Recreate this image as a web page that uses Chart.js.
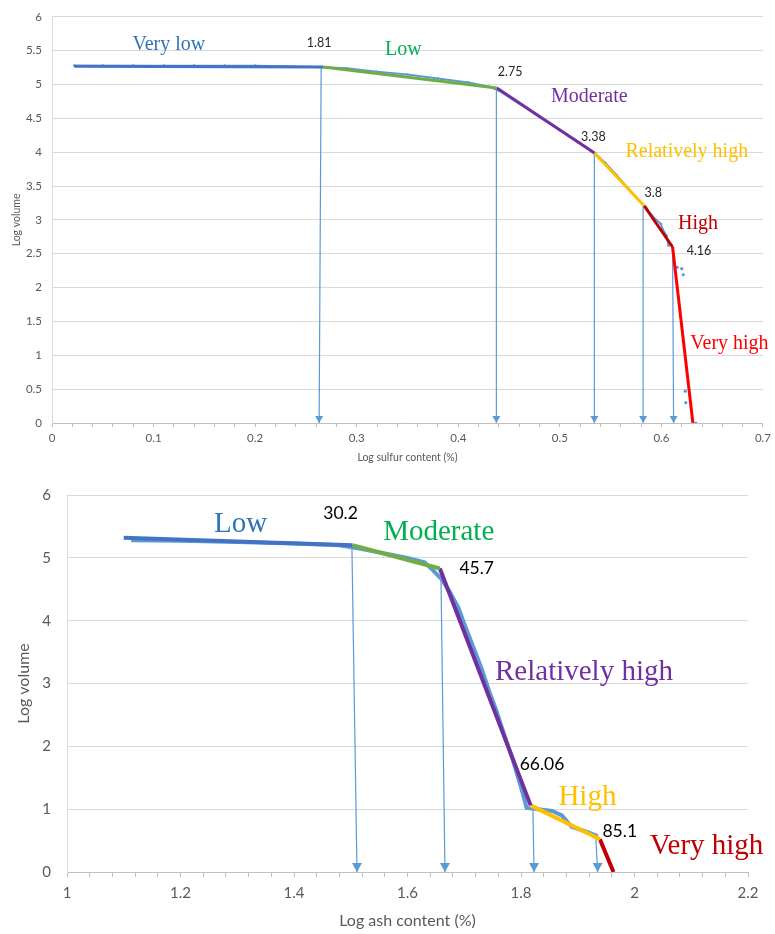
<!DOCTYPE html>
<html>
<head>
<meta charset="utf-8">
<title>Log volume vs sulfur and ash content</title>
<script src="https://cdn.jsdelivr.net/npm/chart.js@4.4.1/dist/chart.umd.min.js"></script>
<style>
  body { margin: 0; background: #fff; }
  .panel { position: absolute; left: 0; width: 775px; }
  #sulfurBox { top: 0; height: 470px; }
  #ashBox { top: 470px; height: 464px; }
</style>
</head>
<body>
<div class="panel" id="sulfurBox"><canvas id="sulfurChart"></canvas></div>
<div class="panel" id="ashBox"><canvas id="ashChart"></canvas></div>
<script>
'use strict'

// ---- SULFUR PANEL DATA ----
// measured curve (log sulfur %, log volume)
const sulfurRawX = [0.022, 0.05, 0.08, 0.11, 0.14, 0.17, 0.20, 0.23, 0.26, 0.29, 0.32, 0.35, 0.38, 0.41, 0.43, 0.44,
  0.46, 0.48, 0.50, 0.52, 0.535, 0.545, 0.556, 0.567, 0.578, 0.585, 0.591, 0.5995, 0.601, 0.605, 0.607];
const sulfurRawY = [5.28, 5.28, 5.28, 5.28, 5.28, 5.28, 5.28, 5.27, 5.26, 5.24, 5.19, 5.15, 5.09, 5.03, 4.97, 4.91,
  4.72, 4.52, 4.33, 4.14, 3.98, 3.84, 3.66, 3.47, 3.29, 3.18, 3.06, 2.94, 2.87, 2.77, 2.62];
// scattered points on the steep tail
const sulfurTailX = [0.6155, 0.620, 0.6215, 0.6235, 0.624, 0.634];
const sulfurTailY = [2.30, 2.28, 2.19, 0.47, 0.30, 0.0];
// fitted piecewise line, one segment per class
const sulfurFitX = [0.022, 0.267, 0.438, 0.534, 0.583, 0.611, 0.631];
const sulfurFitY = [5.27, 5.26, 4.95, 3.99, 3.21, 2.60, 0];
const sulfurClasses = ['Very low', 'Low', 'Moderate', 'Relatively high', 'High', 'Very high'];
// class boundaries (sulfur %), with the drop arrows
const sulfurCuts = ['1.81', '2.75', '3.38', '3.8', '4.16'];
const sulfurArrowTopX = [0.265, 0.4375, 0.534, 0.582, 0.611];
const sulfurArrowTopY = [5.26, 4.92, 3.97, 3.21, 2.60];
const sulfurArrowEndX = [0.263, 0.4375, 0.534, 0.582, 0.612];
const sulfurXLabels = [0, 0.1, 0.2, 0.3, 0.4, 0.5, 0.6, 0.7];
const sulfurYLabels = [0, 0.5, 1, 1.5, 2, 2.5, 3, 3.5, 4, 4.5, 5, 5.5, 6];

// ---- ASH PANEL DATA ----
const ashRawX = [1.113, 1.20, 1.30, 1.40, 1.48, 1.52, 1.56, 1.60, 1.63, 1.645, 1.66, 1.675, 1.69, 1.70, 1.715, 1.73,
  1.745, 1.757, 1.77, 1.785, 1.80, 1.81, 1.83, 1.855, 1.872, 1.889, 1.916, 1.935];
const ashRawY = [5.28, 5.27, 5.25, 5.23, 5.20, 5.14, 5.07, 5.00, 4.93, 4.80, 4.66, 4.45, 4.20, 3.95, 3.60, 3.25,
  2.85, 2.56, 2.20, 1.80, 1.35, 1.02, 1.00, 0.97, 0.90, 0.72, 0.64, 0.57];
const ashFitX = [1.100, 1.503, 1.657, 1.817, 1.939, 1.963];
const ashFitY = [5.32, 5.20, 4.83, 1.06, 0.52, 0];
const ashClasses = ['Low', 'Moderate', 'Relatively high', 'High', 'Very high'];
const ashCuts = ['30.2', '45.7', '66.06', '85.1'];
const ashArrowTopX = [1.502, 1.659, 1.821, 1.932];
const ashArrowTopY = [5.19, 4.67, 0.98, 0.52];
const ashArrowEndX = [1.511, 1.666, 1.823, 1.935];
const ashXLabels = [1, 1.2, 1.4, 1.6, 1.8, 2, 2.2];
const ashYLabels = [0, 1, 2, 3, 4, 5, 6];

// colours
const RAW_BLUE = '#5B9BD5';
const sulfurLineColors = ['#4472C4', '#70AD47', '#7030A0', '#FFC000', '#C00000', '#FF0000'];
const sulfurTextColors = ['#2E75B6', '#00B050', '#7030A0', '#FFC000', '#C00000', '#FF0000'];
const ashLineColors = ['#4472C4', '#70AD47', '#7030A0', '#FFC000', '#C00000'];
const ashTextColors = ['#2E75B6', '#00B050', '#7030A0', '#FFC000', '#C00000'];

Chart.defaults.font.family = 'Lato';
Chart.defaults.animation = false;

function toPoints(xs, ys) {
  return xs.map((x, i) => ({ x, y: ys[i] }));
}

// one dataset per fitted segment
function fitDatasets(xs, ys, colors, width) {
  return colors.map((c, i) => ({
    data: toPoints([xs[i], xs[i + 1]], [ys[i], ys[i + 1]]),
    showLine: true, borderColor: c, borderWidth: width, pointRadius: 0
  }));
}

function arrowDatasets(topX, topY, endX, width) {
  return topX.map((x, i) => ({
    data: [{ x, y: topY[i] }, { x: endX[i], y: 0 }],
    showLine: true, borderColor: RAW_BLUE, borderWidth: width, pointRadius: 0
  }));
}

// arrow heads + class names + boundary values, placed in data units
function makeMarkup(cfg) {
  return {
    id: 'markup',
    afterDatasetsDraw(chart) {
      const { ctx, scales: { x, y } } = chart;
      ctx.save();
      ctx.fillStyle = RAW_BLUE;
      cfg.arrowX.forEach(v => {
        const px = x.getPixelForValue(v), py = y.getPixelForValue(0);
        ctx.beginPath();
        ctx.moveTo(px, py);
        ctx.lineTo(px - cfg.headW / 2, py - cfg.headH);
        ctx.lineTo(px + cfg.headW / 2, py - cfg.headH);
        ctx.closePath();
        ctx.fill();
      });
      ctx.textAlign = 'center';
      ctx.textBaseline = 'middle';
      ctx.font = cfg.classFont;
      cfg.classes.forEach((t, i) => {
        ctx.fillStyle = cfg.classColors[i];
        ctx.fillText(t, x.getPixelForValue(cfg.classAt[i][0]), y.getPixelForValue(cfg.classAt[i][1]));
      });
      ctx.font = cfg.cutFont;
      ctx.fillStyle = cfg.cutColor;
      cfg.cuts.forEach((t, i) => {
        ctx.fillText(t, x.getPixelForValue(cfg.cutAt[i][0]), y.getPixelForValue(cfg.cutAt[i][1]));
      });
      ctx.restore();
    }
  };
}

// only listed values get a label, the other ticks stay as bare marks
function pickLabel(list) {
  return v => {
    const hit = list.find(t => Math.abs(t - v) < 1e-9);
    return hit === undefined ? '' : String(hit);
  };
}

// SULFUR CHART
new Chart(document.getElementById('sulfurChart'), {
  type: 'scatter',
  data: {
    datasets: [
      ...fitDatasets(sulfurFitX, sulfurFitY, sulfurLineColors, 3),
      { data: toPoints(sulfurRawX, sulfurRawY), showLine: true, borderColor: RAW_BLUE, borderWidth: 2,
        pointRadius: 1.3, pointBackgroundColor: RAW_BLUE, pointBorderWidth: 0 },
      { data: toPoints(sulfurTailX, sulfurTailY), pointRadius: 1.6, pointBackgroundColor: RAW_BLUE, pointBorderWidth: 0 },
      ...arrowDatasets(sulfurArrowTopX, sulfurArrowTopY, sulfurArrowEndX, 1.2)
    ]
  },
  options: {
    responsive: true,
    maintainAspectRatio: false,
    layout: { padding: { top: 12, right: 11, left: 0, bottom: 0 } },
    plugins: { legend: { display: false }, tooltip: { enabled: false } },
    scales: {
      x: {
        type: 'linear', min: 0, max: 0.7,
        afterFit: s => { s.height = 47; },
        ticks: { stepSize: 0.02, autoSkip: false, maxRotation: 0, padding: 4, color: '#595959',
          font: { size: 11.5 }, callback: pickLabel(sulfurXLabels) },
        grid: { drawOnChartArea: false, drawTicks: true, tickLength: 4, color: '#bfbfbf' },
        border: { color: '#bfbfbf' },
        title: { display: true, text: 'Log sulfur content (%)', color: '#595959', font: { size: 10.5 },
          padding: { top: 0, bottom: 6 } }
      },
      y: {
        min: 0, max: 6,
        afterFit: s => { s.width = 52; },
        ticks: { stepSize: 0.5, padding: 10, color: '#595959', font: { size: 11.5 },
          callback: pickLabel(sulfurYLabels) },
        grid: { color: '#d9d9d9', drawTicks: false },
        border: { color: '#d9d9d9' },
        title: { display: true, text: 'Log volume', color: '#595959', font: { size: 10.5 },
          padding: { top: 10, bottom: 0 } }
      }
    }
  },
  plugins: [makeMarkup({
    arrowX: sulfurArrowEndX, headW: 8, headH: 7,
    classes: sulfurClasses, classColors: sulfurTextColors,
    classAt: [[0.115, 5.59], [0.346, 5.52], [0.529, 4.82], [0.625, 4.01], [0.636, 2.95], [0.667, 1.17]],
    classFont: '20px "Liberation Serif"',
    cuts: sulfurCuts, cutColor: '#262626',
    cutAt: [[0.263, 5.62], [0.451, 5.18], [0.533, 4.22], [0.592, 3.40], [0.637, 2.54]],
    cutFont: '12.5px Lato'
  })]
});

// ASH CHART
new Chart(document.getElementById('ashChart'), {
  type: 'scatter',
  data: {
    datasets: [
      ...fitDatasets(ashFitX, ashFitY, ashLineColors, 4),
      { data: toPoints(ashRawX, ashRawY), showLine: true, borderColor: RAW_BLUE, borderWidth: 4, pointRadius: 0 },
      ...arrowDatasets(ashArrowTopX, ashArrowTopY, ashArrowEndX, 1.2)
    ]
  },
  options: {
    responsive: true,
    maintainAspectRatio: false,
    layout: { padding: { top: 23, right: 27, left: 0, bottom: 0 } },
    plugins: { legend: { display: false }, tooltip: { enabled: false } },
    scales: {
      x: {
        type: 'linear', min: 1, max: 2.2,
        afterFit: s => { s.height = 62; },
        ticks: { stepSize: 0.04, autoSkip: false, maxRotation: 0, padding: 7, color: '#595959',
          font: { size: 15 }, callback: pickLabel(ashXLabels) },
        grid: { drawOnChartArea: false, drawTicks: true, tickLength: 5, color: '#bfbfbf' },
        border: { color: '#bfbfbf' },
        title: { display: true, text: 'Log ash content (%)', color: '#595959', font: { size: 16 },
          padding: { top: 0, bottom: 4 } }
      },
      y: {
        min: 0, max: 6,
        afterFit: s => { s.width = 67; },
        ticks: { stepSize: 1, padding: 16, color: '#595959', font: { size: 15 },
          callback: pickLabel(ashYLabels) },
        grid: { color: '#d9d9d9', drawTicks: false },
        border: { color: '#d9d9d9' },
        title: { display: true, text: 'Log volume', color: '#595959', font: { size: 16 },
          padding: { top: 14, bottom: 0 } }
      }
    }
  },
  plugins: [makeMarkup({
    arrowX: ashArrowEndX, headW: 10, headH: 9,
    classes: ashClasses, classColors: ashTextColors,
    classAt: [[1.306, 5.54], [1.655, 5.40], [1.911, 3.18], [1.917, 1.19], [2.127, 0.40]],
    classFont: '29px "Liberation Serif"',
    cuts: ashCuts, cutColor: '#000000',
    cutAt: [[1.482, 5.70], [1.722, 4.83], [1.837, 1.72], [1.974, 0.65]],
    cutFont: '17.5px Lato'
  })]
});
</script>
</body>
</html>
